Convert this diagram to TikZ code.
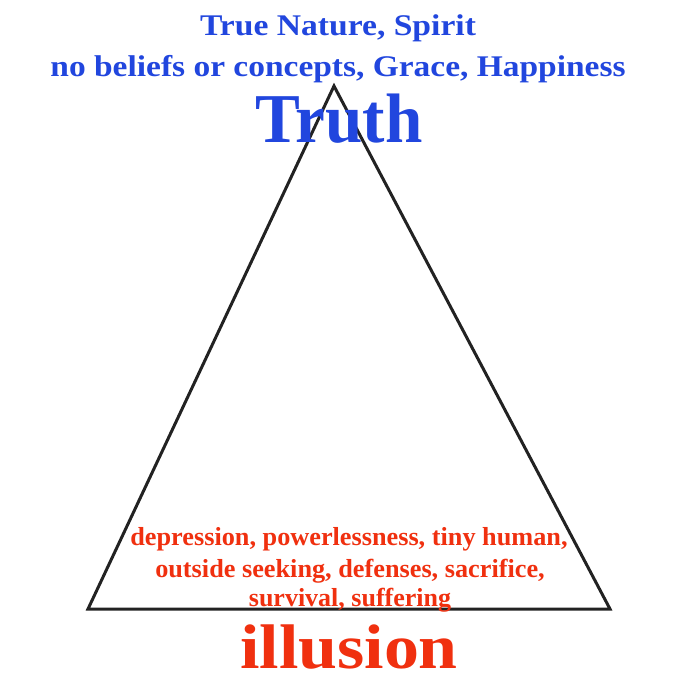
\documentclass[tikz,border=0pt]{standalone}
\usepackage{fontspec}
\setmainfont{Liberation Serif}
\definecolor{tblue}{HTML}{2146DE}
\definecolor{tred}{HTML}{F0300F}
\definecolor{tline}{HTML}{222222}
\tikzset{
  bluetxt/.style={text=tblue, font=\bfseries, anchor=base, inner sep=0pt},
  redtxt/.style={text=tred, font=\bfseries, anchor=base, inner sep=0pt},
  tri/.style={draw=tline, line width=3pt, line join=miter}
}
\begin{document}
\begin{tikzpicture}[x=1pt,y=-1pt]
\useasboundingbox (0,0) rectangle (700,700);
\fill[white] (0,0) rectangle (700,700);
\coordinate (apex) at (334,86);
\coordinate (bl) at (88,609);
\coordinate (br) at (610,609);
\draw[tri] (apex) -- (bl) -- (br) -- cycle;
\node[bluetxt] (t1) at (338,36) {\fontsize{30}{30}\selectfont\scalebox{1.12}[1]{True Nature, Spirit}};
\node[bluetxt] (t2) at (338,77) {\fontsize{30}{30}\selectfont\scalebox{1.115}[1]{no beliefs or concepts, Grace, Happiness}};
\node[bluetxt] (truth) at (339,143) {\fontsize{70}{70}\selectfont\scalebox{0.96}[1]{Truth}};
\node[redtxt] (r1) at (349,545) {\fontsize{26}{26}\selectfont\scalebox{1.01}[1]{depression, powerlessness, tiny human,}};
\node[redtxt] (r2) at (350,577) {\fontsize{26}{26}\selectfont\scalebox{1.01}[1]{outside seeking, defenses, sacrifice,}};
\node[redtxt] (r3) at (350,606) {\fontsize{26}{26}\selectfont\scalebox{1.0}[1]{survival, suffering}};
\node[redtxt] (ill) at (349,668) {\fontsize{63}{63}\selectfont\scalebox{1.11}[1]{illusion}};
\end{tikzpicture}
\end{document}
